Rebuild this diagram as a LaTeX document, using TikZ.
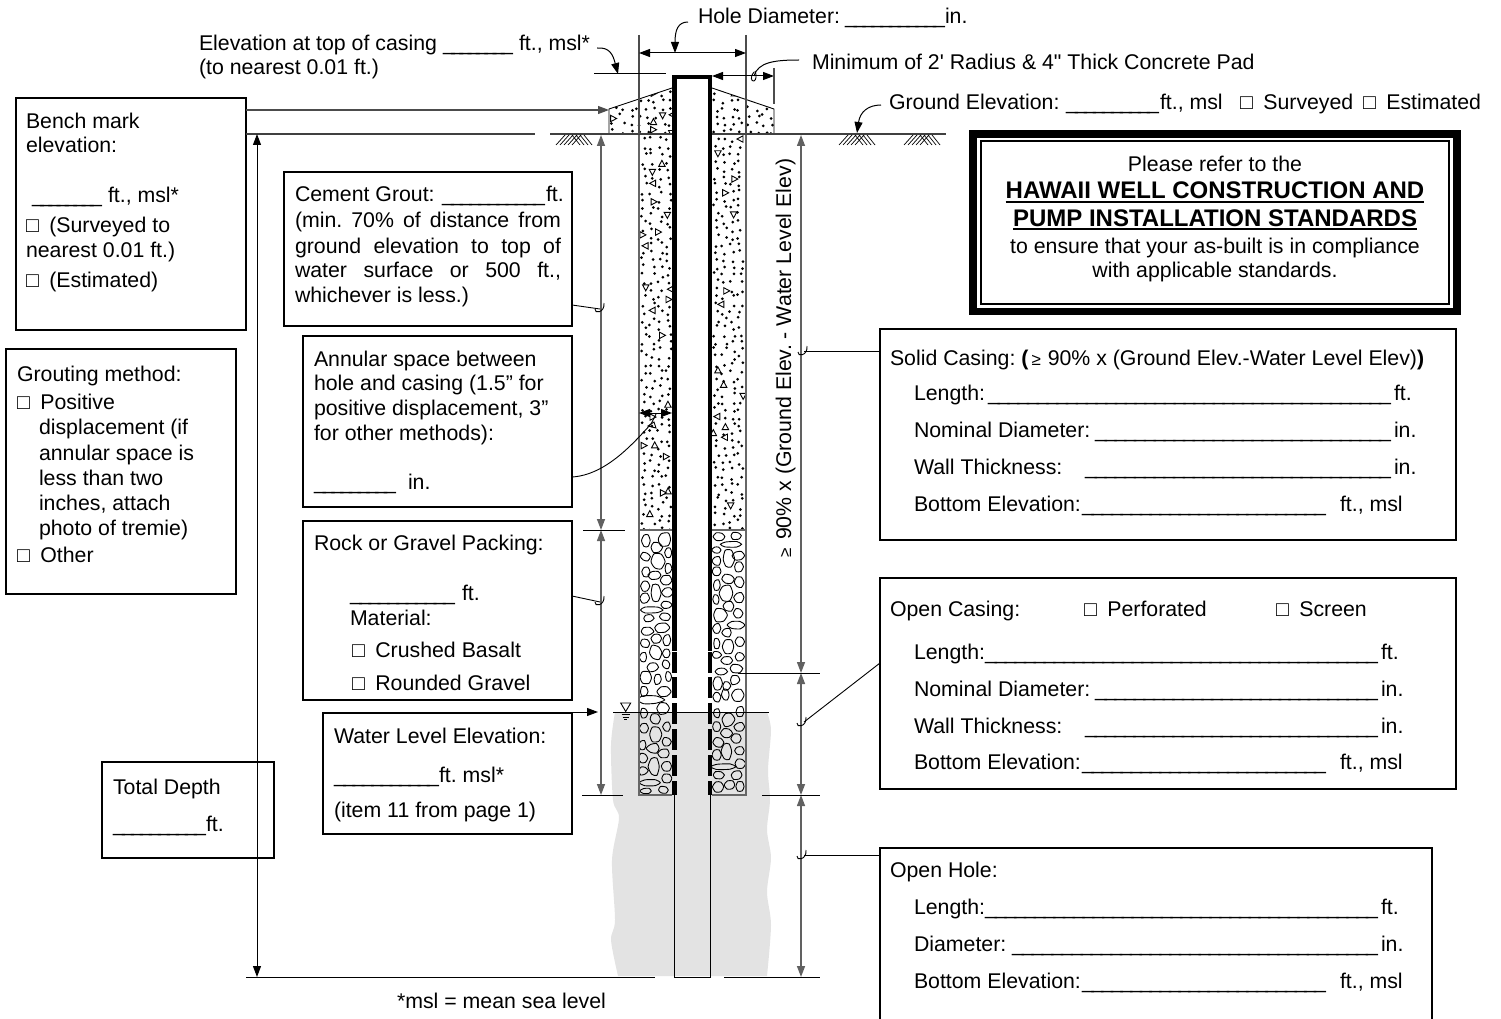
\documentclass[tikz,border=0pt]{standalone}
\usepackage{fontspec}
\setmainfont[Ligatures=TeXOff]{Liberation Sans}
\usetikzlibrary{arrows.meta}
\newcounter{lblc}
\newcommand\tx[3]{\stepcounter{lblc}\node[lbl] (t\arabic{lblc}) at (#1,#2) {#3};}
\newcommand\usw[1]{\pgfmathtruncatemacro\usn{#1/10+1}\hbox to #1pt{\_\foreach\k in {2,...,\usn}{\hss\_}}}
\newcommand\ust[3]{\stepcounter{lblc}\node[lbl] (t\arabic{lblc}) at (#1,#2) {\usw{#3}};}
\newcommand\cb{□\hspace{10.5pt}}
\newcommand\wbox[5]{\node[wellbox,minimum width={(#4-#2)*1pt},minimum height={(#5-#3)*1pt}] (#1) at ({(#2+#4)/2},{(#3+#5)/2}) {};}
\newcommand\hook[2]{\draw[thinline] (#1+4,#2-6) .. controls (#1+5,#2+4) and (#1-6,#2+5) .. (#1-5,#2);}
\newcommand\hatch[1]{\foreach\i in {0,4,8,12,16}{\draw[hatchline] (#1+\i,145) -- (#1+\i+9,135);}
 \foreach\i in {0,4,8,12}{\draw[hatchline] (#1+16+\i,135) -- (#1+16+\i+8,145);}}
\newcommand\speck[4]{% xmin ncols ymin nrows
 \foreach\r in {0,...,#4}{\foreach\k in {1,...,#2}{
  \pgfmathsetmacro\px{#1+(\k-1+.15+.7*rnd)*8.1}\pgfmathsetmacro\py{#3+(\r+.15+.7*rnd)*7.5}\pgfmathsetmacro\q{rnd}
  \ifdim\q pt<.09pt
   \pgfmathtruncatemacro\pr{90*int(4*rnd)}
   \draw[thinline,shift={(\px,\py)},rotate=\pr] (0,-3.5) -- (3.2,2.5) -- (-3.2,2.5) -- cycle;
  \else
   \fill (\px,\py) circle (1.5pt);
  \fi}}}
\newcommand\rock[4]{\pgfmathsetmacro\ra{.95+.32*rnd}\pgfmathsetmacro\rb{.95+.32*rnd}\pgfmathsetmacro\rc{.95+.32*rnd}\pgfmathsetmacro\rd{.95+.32*rnd}\pgfmathsetmacro\re{.95+.32*rnd}\pgfmathsetmacro\rf{.95+.32*rnd}%
 \draw[thinline] plot[smooth cycle,tension=.4] coordinates {({#1+#3*\ra},{#2}) ({#1+.5*#3*\rb},{#2+.87*#4*\rb}) ({#1-.5*#3*\rc},{#2+.87*#4*\rc}) ({#1-#3*\rd},{#2}) ({#1-.5*#3*\re},{#2-.87*#4*\re}) ({#1+.5*#3*\rf},{#2-.87*#4*\rf})};}
\tikzset{
 lbl/.style={anchor=base west,inner sep=0pt,outer sep=0pt,font=\frenchspacing\fontsize{21.3}{25}\selectfont},
 wellbox/.style={draw=black,line width=1.7pt,inner sep=0pt,outer sep=0pt},
 thinline/.style={draw=black,line width=.9pt},
 hatchline/.style={draw=black,line width=.7pt},
 dim/.style={draw=black!62,line width=1.4pt},
 ext/.style={draw=black!70,line width=1.1pt},
 blk/.style={draw=black,line width=1pt},
 tip/.style={-{Triangle[length=11pt,width=8pt]}},
 tips/.style={{Triangle[length=11pt,width=8pt]}-{Triangle[length=11pt,width=8pt]}},
 wall/.style={draw=black,line width=4.6pt},
 col/.style={draw=black!60,line width=1.3pt},
 ground/.style={draw=black!75,line width=1.1pt},
 boldtxt/.style={lbl,anchor=base,font=\frenchspacing\bfseries\fontsize{24}{28}\selectfont},
}
\begin{document}
\begin{tikzpicture}[x=1pt,y=-1pt]
\useasboundingbox (0,0) rectangle (1501,1019);
\pgfmathsetseed{4711}
% water-bearing zone
\fill[black!11] plot[smooth,tension=.5] coordinates {(615,712)(611,745)(613,800)(619,818)(612,860)(615,920)(611,940)(618,976)} -- plot[smooth,tension=.5] coordinates {(767,976)(771,925)(767,892)(771,858)(767,830)(770,800)(768,770)(771,730)(767,712)} -- cycle;
% concrete pad and grout fill
\begin{scope}
 \clip (609,134) -- (609,109) -- (672,88) -- (672,134) -- cycle;
 \speck{610}{8}{90}{5}
\end{scope}
\begin{scope}
 \clip (712,134) -- (712,88) -- (774,109) -- (774,134) -- cycle;
 \speck{712}{8}{90}{5}
\end{scope}
\begin{scope}
 \clip (640,135) rectangle (672,530);
 \speck{640}{4}{136}{52}
\end{scope}
\begin{scope}
 \clip (712,135) rectangle (745,530);
 \speck{712}{4}{136}{52}
\end{scope}
% gravel pack, left column
\begin{scope}
 \clip (640,531) rectangle (672,794);
 \foreach\a/\b/\c/\d in {258/122/12/20,314/118/18/18,290/142/15/14,256/170/12/12,325/158/10/15,293/185/18/22,258/215/12/15,325/205/10/14,285/225/18/12,318/242/16/14,256/258/12/16,287/280/14/25,322/278/14/14,254/295/12/14,320/315/14/10,275/330/35/9,265/355/14/10,315/350/15/10,305/383/20/13,260/395/17/12,290/415/15/14,320/420/10/15,255/430/14/12,287/458/17/20,320/460/10/12,250/472/10/14,278/502/14/12,318/493/10/12,257/533/17/17,293/538/10/14,325/530/8/14,252/575/11/14,312/575/17/14,270/600/35/12,310/625/17/17,252/640/10/14,285/657/14/14,320/680/10/14,252/685/12/14,287/703/16/20,320/725/12/12,248/735/10/14,280/745/17/14,312/760/16/12,250/775/12/14,282/800/14/25,320/798/14/13,250/812/12/12,320/835/14/12,270/848/32/10,258/873/15/8,310/870/14/10}{
  \rock{560+\a/3}{500+\b/3}{\c/3}{\d/3}}
\end{scope}
% gravel pack, right column
\begin{scope}
 \clip (712,531) rectangle (745,794);
 \foreach\a/\b/\c/\d in {478/110/16/12,528/107/15/10,512/133/30/8,470/150/12/10,535/167/16/12,505/178/15/25,470/183/12/12,536/200/12/14,470/215/12/12,505/237/17/13,537/247/12/15,470/255/10/15,498/280/18/22,537/292/13/14,468/298/9/14,505/318/15/14,535/340/12/14,480/345/18/18,527/375/25/12,470/385/10/14,500/398/13/12,540/425/12/14,470/430/9/14,505/440/16/20,540/470/12/12,470/465/12/10,500/482/16/12,528/505/18/12,483/515/16/10,525/540/14/13,473/550/12/18,500/558/10/12,533/585/17/18,470/590/10/14,497/585/10/16,540/635/12/14,505/658/16/20,470/640/9/12,470/680/12/14,538/680/13/12,500/700/15/14,530/716/14/14,475/727/14/14,500/755/14/25,538/752/14/12,470/765/12/14,540/790/14/14,490/800/35/8,475/825/15/10,530/825/15/12,475/860/14/15,510/855/14/12,540/860/12/14}{
  \rock{560+\a/3}{500+\b/3}{\c/3}{\d/3}}
\end{scope}
% pad outline
\draw[thinline] (672,88) -- (609,109) -- (609,134);
\draw[thinline] (712,88) -- (774,109) -- (774,134);
% column edges
\draw[col] (639,134) -- (639,795) -- (672,795);
\draw[col] (746,134) -- (746,795) -- (712,795);
\draw[col] (639,530) -- (672,530) (712,530) -- (746,530);
% casing
\draw[wall] (674.5,651) -- (674.5,77) -- (710,77) -- (710,651);
\foreach\a/\b in {652/673,677/698,703/724,729/750,755/776,781/795}{
 \draw[wall] (674.5,\a) -- (674.5,\b);
 \draw[wall] (710,\a) -- (710,\b);}
\draw[blk] (674.3,795) -- (674.3,977) -- (710,977) -- (710,795);
% boxes
\wbox{bench}{16}{98}{246}{330}
\wbox{grouting}{6}{349}{236}{594}
\wbox{cement}{284}{172}{572}{326}
\wbox{annular}{303}{336}{572}{507}
\wbox{rockbox}{303}{521}{572}{700}
\wbox{waterbox}{323}{713}{572}{834}
\wbox{depth}{102}{762}{274}{858}
\wbox{solid}{880}{329}{1456}{540}
\wbox{opencasing}{880}{578}{1456}{789}
\draw[wellbox] (880,1019) -- (880,848) -- (1432,848) -- (1432,1019);
\coordinate (holeL) at (880,855);
% notice
\node[draw=black,line width=7.5pt,minimum width=484pt,minimum height=177.5pt,inner sep=0pt,outer sep=0pt] (notice) at (1215,222.75) {};
\node[draw=black,line width=1.5pt,minimum width=468pt,minimum height=163pt,inner sep=0pt,outer sep=0pt] (noticein) at (1215,222.5) {};
% ground and reference lines
\draw[ground] (246,134) -- (535,134);
\draw[ground] (550,134) -- (672,134) (712,134) -- (946,134);
\hatch{556}\hatch{839}\hatch{904}
\coordinate (padtip) at (609,110);
\draw[ext,tip] (bench.east |- padtip) -- (padtip);
% dimensions
\coordinate (g1) at (257,134); \coordinate (b1) at (257,977);
\draw[blk,tips] (g1) -- (b1);
\draw[blk] (246,977) -- (655,977) (724,977) -- (820,977);
\coordinate (d1) at (601,135); \coordinate (d2) at (601,530); \coordinate (d3) at (601,795);
\draw[dim,tips] (d1) -- (d2);
\draw[dim,tips] (d2) -- (d3);
\draw[blk] (583,530) -- (625,530) (582,795) -- (623,795);
\coordinate (e1) at (801,135); \coordinate (e2) at (801,673); \coordinate (e3) at (801,795); \coordinate (e4) at (801,977);
\draw[dim,tips] (e1) -- (e2);
\draw[dim,tips] (e2) -- (e3);
\draw[dim,tips] (e3) -- (e4);
\draw[blk] (738,673) -- (820,673) (762,795) -- (820,795);
% water surface
\draw[blk] (613,712) -- (769,712);
\draw[thinline] (620.7,703) -- (630.7,703) -- (625.7,711.5) -- cycle;
\draw[thinline] (621.5,714.5) -- (629.5,714.5) (622.5,717) -- (628.5,717) (624,719.5) -- (627,719.5);
\coordinate (watertip) at (598,712);
\draw[blk,tip] (waterbox.east |- watertip) -- (watertip);
% top dimensions
\draw[ext] (639,35) -- (639,134) (746,35) -- (746,134);
\coordinate (hL) at (639,53); \coordinate (hR) at (746,53);
\draw[blk,tips] (hL) -- (hR);
\coordinate (hc) at (675,53); \coordinate (hs) at (688,22);
\draw[blk,tip] (hs) .. controls (678,22) and (675,30) .. (hc);
\draw[blk] (594,74) -- (666,74);
\coordinate (es) at (597,48); \coordinate (ee) at (618,74);
\draw[blk,tip] (es) .. controls (610,47) and (613,55) .. (ee);
\coordinate (pL) at (712,76); \coordinate (pR) at (774,76);
\draw[blk,tips] (pL) -- (pR);
\draw[ext] (774,68) -- (774,104);
\coordinate (ps) at (799,60); \coordinate (pe) at (754,76);
\draw[blk] (ps) .. controls (775,60) and (758,62) .. (pe);
\draw[thinline] (754,72) .. controls (750,76) and (751,82) .. (754,81) .. controls (756,80) and (757,76) .. (755,71);
\coordinate (gs) at (881,105); \coordinate (ge) at (857,133);
\draw[blk,tip] (gs) .. controls (868,105) and (860,112) .. (ge);
% annular
\coordinate (a1) at (639,413); \coordinate (a2) at (672,413);
\draw[blk,tips] (a1) -- (a2);
\coordinate (as) at (572,477); \coordinate (ae) at (651,424);
\draw[thinline] (as) .. controls (605,475) and (632,445) .. (ae) -- (656,414);
\draw[thinline] (648,426) -- (656,428) -- (654,422) -- cycle;
% leaders
\coordinate (c1) at (572,305); \coordinate (c2) at (600,309);
\draw[thinline] (c1) -- (c2); \hook{600}{309}
\coordinate (r1) at (572,596); \coordinate (r2) at (600,602);
\draw[thinline] (r1) -- (r2); \hook{600}{602}
\coordinate (s1) at (880,351); \coordinate (s2) at (804,351);
\draw[thinline] (s1) -- (s2); \hook{803}{352}
\coordinate (o1) at (880,663); \coordinate (o2) at (804,722);
\draw[thinline] (o1) -- (o2); \hook{802}{723}
\coordinate (h2) at (804,855);
\draw[thinline] (holeL) -- (h2); \hook{802}{856}
% rotated label
\node[lbl,anchor=base,rotate=90] (rot) at (791,358) {{\fontsize{17}{18}\selectfont ≥}\hspace{2pt} 90\% x (Ground Elev. - Water Level Elev)};
% top labels
\tx{698}{24}{Hole Diameter:}\ust{845}{24}{100}\tx{945}{24}{in.}
\tx{199}{51}{Elevation at top of casing}\ust{443}{51}{70}\tx{519}{51}{ft., msl*}
\tx{199}{75}{(to nearest 0.01 ft.)}
\tx{812}{70}{Minimum of 2' Radius \& 4" Thick Concrete Pad}
\tx{889}{110}{Ground Elevation:}\ust{1066}{110}{93}\tx{1160}{110}{ft., msl}
\tx{1240}{110}{\cb Surveyed}\tx{1363}{110}{\cb Estimated}
% bench
\tx{26}{129}{Bench mark}\tx{26}{153}{elevation:}
\ust{32}{203}{70}\tx{108}{203}{ft., msl*}
\tx{26}{232}{\cb (Surveyed to}\tx{26}{257}{nearest 0.01 ft.)}\tx{26}{287}{\cb (Estimated)}
% grouting
\tx{17}{381}{Grouting method:}\tx{17}{409}{\cb Positive}
\tx{39}{434}{displacement (if}\tx{39}{460}{annular space is}\tx{39}{485}{less than two}\tx{39}{510}{inches, attach}\tx{39}{535}{photo of tremie)}
\tx{17}{562}{\cb Other}
% cement
\tx{295}{201}{Cement Grout:}\ust{442}{201}{103}\tx{546}{201}{ft.}
\tx{295}{227}{\makebox[266pt][s]{(min. 70\% of distance from}}
\tx{295}{253}{\makebox[266pt][s]{ground elevation to top of}}
\tx{295}{277}{\makebox[266pt][s]{water surface or 500 ft.,}}
\tx{295}{302}{whichever is less.)}
% annular
\tx{314}{366}{Annular space between}\tx{314}{390}{hole and casing (1.5” for}\tx{314}{415}{positive displacement, 3”}\tx{314}{440}{for other methods):}
\ust{314}{489}{82}\tx{408}{489}{in.}
% rock
\tx{314}{550}{Rock or Gravel Packing:}
\ust{350}{600}{105}\tx{462}{600}{ft.}
\tx{350}{625}{Material:}
\tx{352}{657}{\cb Crushed Basalt}\tx{352}{690}{\cb Rounded Gravel}
% water
\tx{334}{743}{Water Level Elevation:}
\ust{334}{782}{105}\tx{439}{782}{ft. msl*}
\tx{334}{817}{(item 11 from page 1)}
% depth
\tx{113}{794}{Total Depth}\ust{113}{831}{93}\tx{206}{831}{ft.}
\tx{397}{1008}{*msl = mean sea level}
% notice text
\node[lbl,anchor=base] (n1) at (1215,172) {Please refer to the};
\node[boldtxt] (n2) at (1215,199) {HAWAII WELL CONSTRUCTION AND};
\node[boldtxt] (n3) at (1215,226) {PUMP INSTALLATION STANDARDS};
\draw[draw=black,line width=2.4pt] ([yshift=-3pt]n2.base west) -- ([yshift=-3pt]n2.base east);
\draw[draw=black,line width=2.4pt] ([yshift=-3pt]n3.base west) -- ([yshift=-3pt]n3.base east);
\node[lbl,anchor=base] (n4) at (1215,253) {to ensure that your as-built is in compliance};
\node[lbl,anchor=base] (n5) at (1215,277) {with applicable standards.};
% solid casing
\tx{890}{365}{Solid Casing: {\bfseries (}\hspace{3pt}{\fontsize{17}{18}\selectfont ≥}\hspace{1pt} 90\% x (Ground Elev.-Water Level Elev){\bfseries )}}
\tx{914}{400}{Length:}\ust{988}{400}{403}\tx{1394}{400}{ft.}
\tx{914}{437}{Nominal Diameter:}\ust{1095}{437}{296}\tx{1394}{437}{in.}
\tx{914}{474}{Wall Thickness:}\ust{1085}{474}{306}\tx{1394}{474}{in.}
\tx{914}{511}{Bottom Elevation:}\ust{1082}{511}{244}\tx{1340}{511}{ft., msl}
% open casing
\tx{890}{616}{Open Casing:}\tx{1084}{616}{\cb Perforated}\tx{1276}{616}{\cb Screen}
\tx{914}{659}{Length:}\ust{985}{659}{393}\tx{1381}{659}{ft.}
\tx{914}{696}{Nominal Diameter:}\ust{1095}{696}{283}\tx{1381}{696}{in.}
\tx{914}{733}{Wall Thickness:}\ust{1085}{733}{293}\tx{1381}{733}{in.}
\tx{914}{769}{Bottom Elevation:}\ust{1082}{769}{244}\tx{1340}{769}{ft., msl}
% open hole
\tx{890}{877}{Open Hole:}
\tx{914}{914}{Length:}\ust{985}{914}{393}\tx{1381}{914}{ft.}
\tx{914}{951}{Diameter:}\ust{1012}{951}{366}\tx{1381}{951}{in.}
\tx{914}{988}{Bottom Elevation:}\ust{1082}{988}{244}\tx{1340}{988}{ft., msl}
\end{tikzpicture}
\end{document}
